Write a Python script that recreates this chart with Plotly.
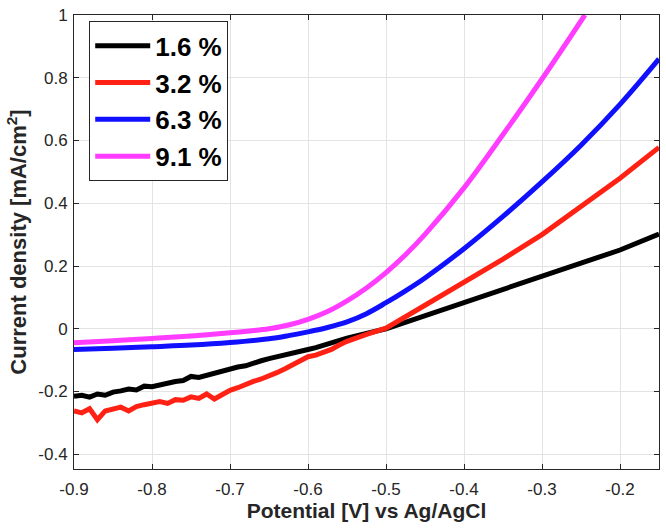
import plotly.graph_objects as go

# ---- data ----
labels = ["1.6 %", "3.2 %", "6.3 %", "9.1 %"]
colors = ["#000000", "#ff2214", "#1010ff", "#ff3cff"]

black_x = [-0.90, -0.89, -0.88, -0.87, -0.86, -0.85, -0.84, -0.83, -0.82, -0.81,
           -0.80, -0.79, -0.78, -0.77, -0.76, -0.75, -0.74, -0.73, -0.72, -0.71,
           -0.70, -0.69, -0.68, -0.67, -0.66, -0.65, -0.64, -0.63, -0.62, -0.61,
           -0.60, -0.59, -0.58, -0.57, -0.56, -0.55, -0.50, -0.45, -0.40, -0.35,
           -0.30, -0.25, -0.20, -0.15]
black_y = [-0.215, -0.212, -0.218, -0.208, -0.212, -0.202, -0.198, -0.192, -0.195, -0.183,
           -0.185, -0.178, -0.175, -0.168, -0.165, -0.152, -0.155, -0.148, -0.140, -0.133,
           -0.128, -0.122, -0.118, -0.108, -0.102, -0.095, -0.090, -0.084, -0.078, -0.072,
           -0.066, -0.060, -0.052, -0.044, -0.036, -0.030, 0.000, 0.042, 0.085, 0.127,
           0.170, 0.210, 0.251, 0.302]

red_x = [-0.90, -0.89, -0.88, -0.87, -0.86, -0.85, -0.84, -0.83, -0.82, -0.81,
         -0.80, -0.79, -0.78, -0.77, -0.76, -0.75, -0.74, -0.73, -0.72, -0.71,
         -0.70, -0.69, -0.68, -0.67, -0.66, -0.65, -0.64, -0.63, -0.62, -0.61,
         -0.60, -0.59, -0.58, -0.57, -0.56, -0.55, -0.525, -0.50, -0.45, -0.40,
         -0.35, -0.30, -0.25, -0.20, -0.15]
red_y = [-0.262, -0.268, -0.255, -0.290, -0.262, -0.258, -0.250, -0.262, -0.248, -0.242,
         -0.236, -0.232, -0.238, -0.226, -0.228, -0.217, -0.222, -0.208, -0.224, -0.210,
         -0.196, -0.188, -0.176, -0.168, -0.160, -0.151, -0.140, -0.128, -0.115, -0.102,
         -0.089, -0.084, -0.076, -0.066, -0.052, -0.040, -0.018, 0.002, 0.075, 0.148,
         0.222, 0.300, 0.390, 0.480, 0.578]

blue_x = [-0.90, -0.85, -0.80, -0.75, -0.70, -0.65, -0.625, -0.60, -0.575, -0.55,
          -0.525, -0.50, -0.475, -0.45, -0.40, -0.35, -0.30, -0.25, -0.20, -0.15]
blue_y = [-0.066, -0.062, -0.057, -0.052, -0.044, -0.032, -0.022, -0.010, 0.004, 0.022,
          0.048, 0.083, 0.121, 0.162, 0.255, 0.358, 0.468, 0.585, 0.715, 0.860]

mag_x = [-0.90, -0.85, -0.80, -0.75, -0.70, -0.675, -0.65, -0.625, -0.60, -0.575,
         -0.55, -0.525, -0.50, -0.475, -0.45, -0.40, -0.35, -0.30, -0.245]
mag_y = [-0.045, -0.038, -0.031, -0.023, -0.013, -0.007, 0.000, 0.012, 0.030, 0.055,
         0.089, 0.130, 0.179, 0.236, 0.301, 0.449, 0.619, 0.796, 1.000]

x_ticks = [-0.9, -0.8, -0.7, -0.6, -0.5, -0.4, -0.3, -0.2]
x_ticktext = ["-0.9", "-0.8", "-0.7", "-0.6", "-0.5", "-0.4", "-0.3", "-0.2"]
y_ticks = [-0.4, -0.2, 0, 0.2, 0.4, 0.6, 0.8, 1.0]
y_ticktext = ["-0.4", "-0.2", "0", "0.2", "0.4", "0.6", "0.8", "1"]

FONT = "Liberation Sans, Arial, Helvetica, sans-serif"

fig = go.Figure()
series = [(black_x, black_y, "linear"), (red_x, red_y, "linear"),
          (blue_x, blue_y, "spline"), (mag_x, mag_y, "spline")]
for (xs, ys, shape), name, col in zip(series, labels, colors):
    fig.add_trace(go.Scatter(x=xs, y=ys, mode="lines", name="<b>" + name + "</b>",
                             line=dict(color=col, width=5, shape=shape)))

axis_common = dict(
    showgrid=True, gridcolor="#e3e3e3", gridwidth=1,
    showline=True, linecolor="#262626", linewidth=1, mirror="ticks",
    ticks="inside", ticklen=5, tickcolor="#262626", tickwidth=1,
    zeroline=False, tickfont=dict(family=FONT, size=17, color="#262626"),
    ticklabeloverflow="allow",
)

fig.update_layout(
    width=666, height=531,
    margin=dict(l=74, r=6, t=8, b=62),
    paper_bgcolor="white", plot_bgcolor="white",
    font=dict(family=FONT, color="#262626"),
    xaxis=dict(range=[-0.9, -0.15], tickvals=x_ticks, ticktext=x_ticktext,
               ticklabelstandoff=5,
               title=dict(text="<b>Potential [V] vs Ag/AgCl</b>",
                          font=dict(family=FONT, size=21, color="#262626"), standoff=4),
               **axis_common),
    yaxis=dict(range=[-0.447, 1.0], tickvals=y_ticks, ticktext=y_ticktext,
               ticklabelstandoff=2,
               title=dict(text="<b>Current density [mA/cm<sup>2</sup>]</b>",
                          font=dict(family=FONT, size=22, color="#262626"), standoff=5),
               **axis_common),
    legend=dict(x=0.026, y=0.986, xanchor="left", yanchor="top",
                bgcolor="white", bordercolor="#262626", borderwidth=1,
                font=dict(family=FONT, size=26, color="#000000"),
                itemwidth=55, tracegroupgap=0),
    showlegend=True,
)

fig.write_html("out.html")
